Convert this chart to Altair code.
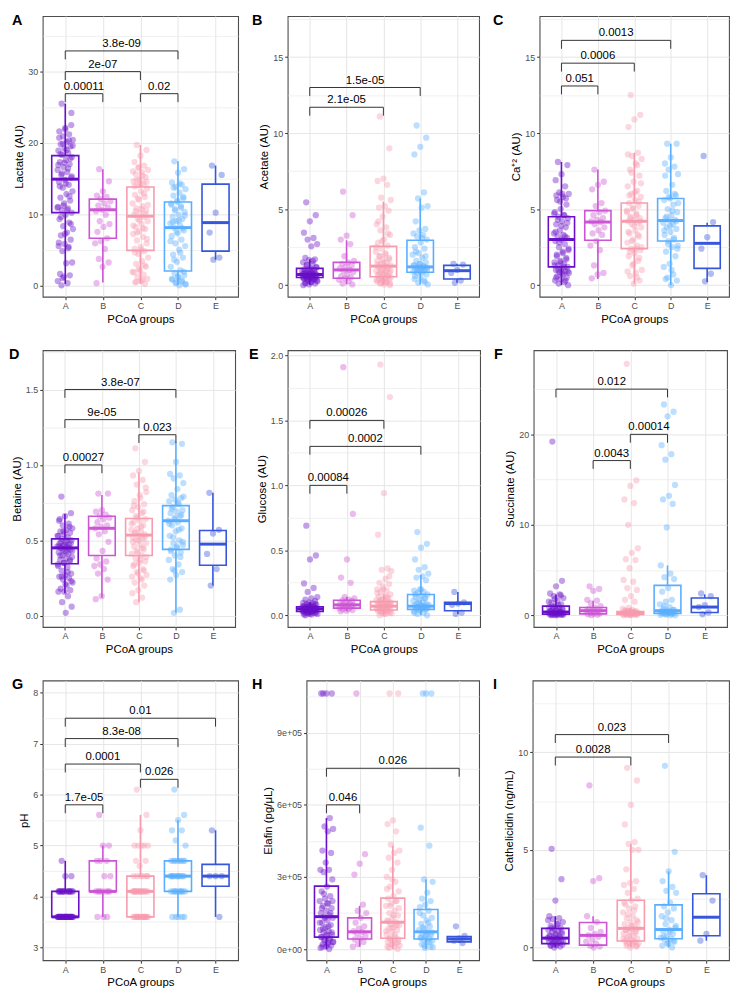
import json
import altair as alt
import pandas as pd

FONT = "Liberation Sans"
GROUPS = ["A", "B", "C", "D", "E"]
COLORS = ["#6A10C8", "#CC55D5", "#F79CAE", "#5AAEFF", "#3656DC"]

# ---------------- Panel A: Lactate ----------------
LAC_PTS = [
    [25.5, 24.2, 22.1, 21.6, 21.2, 20.9, 20.4, 20.1, 19.8, 19.5, 19.2, 18.9, 18.6, 18.3, 18.0, 17.6, 17.3, 17.0,
     16.6, 16.2, 15.9, 15.5, 15.1, 14.8, 14.5, 14.1, 13.7, 13.2, 12.8, 12.3, 11.9, 11.5, 11.0, 10.8, 10.5, 10.2,
     9.9, 9.3, 8.8, 8.3, 7.9, 7.4, 7.0, 6.4, 5.8, 5.5, 5.2, 4.8, 3.2, 3.1, 1.6, 1.4, 1.2, 0.6, 0.3, 0.0,
     22.5, 21.9, 20.7, 20.3, 19.9, 19.6, 19.0, 18.4, 17.8, 17.2, 16.9, 16.4, 15.7, 15.3, 14.3, 13.9, 12.5,
     11.2, 10.9, 10.6, 9.6, 8.6, 7.2, 6.0, 5.4, 1.0],
    [16.3, 14.6, 13.2, 12.6, 12.4, 12.1, 11.8, 11.5, 11.2, 10.9, 10.6, 10.4, 9.9, 9.0, 8.6, 8.2, 7.5, 6.6, 6.2,
     5.9, 5.1, 3.7, 3.2, 2.6, 0.3],
    [19.7, 19.0, 18.2, 17.3, 16.8, 16.5, 16.2, 15.9, 15.6, 15.2, 14.9, 14.6, 14.3, 14.0, 13.6, 13.2, 12.7, 12.4,
     12.0, 11.5, 11.1, 10.8, 10.5, 10.2, 9.9, 9.6, 9.3, 9.0, 8.6, 8.2, 7.9, 7.6, 7.2, 6.8, 6.3, 5.9, 5.4, 5.1,
     4.8, 4.4, 3.9, 3.4, 3.0, 2.6, 2.1, 1.8, 1.5, 1.2, 0.9, 0.6, 0.4, 0.2,
     16.6, 16.0, 15.4, 14.8, 14.5, 14.2, 13.9, 12.9, 12.2, 11.3, 10.7, 10.4, 10.0, 9.1, 8.4, 8.0, 7.4, 6.5,
     5.0, 4.6, 2.8, 2.3, 1.9, 0.8, 0.5],
    [17.4, 16.3, 15.8, 14.4, 14.1, 13.8, 13.5, 13.0, 12.6, 12.2, 11.9, 11.5, 11.1, 10.7, 10.3, 9.9, 9.6, 9.3,
     9.0, 8.7, 8.4, 8.1, 7.7, 7.3, 6.9, 6.4, 5.9, 5.5, 5.0, 4.3, 3.9, 3.3, 2.6, 2.1, 1.7, 1.4, 1.1, 0.8, 0.5,
     0.3, 0.1, 14.3, 13.7, 12.4, 11.7, 11.3, 10.9, 10.5, 9.8, 9.1, 8.9, 8.0, 7.5, 6.2, 4.6, 3.6, 1.9, 1.2,
     0.9, 0.7, 0.4, 0.2, 0.0],
    [16.8, 15.5, 10.2, 7.4, 3.9, 3.6],
]
LAC_LO = [0.2, 0.4, 0.2, 0.1, 3.6]
LAC_Q1 = [10.2, 6.6, 4.9, 2.0, 4.8]
LAC_MED = [14.9, 10.6, 9.7, 8.1, 8.8]
LAC_Q3 = [18.2, 12.1, 13.8, 11.7, 14.2]
LAC_HI = [25.5, 16.3, 19.7, 17.4, 16.8]
LAC_BR = [("A", "B", 26.9, "0.00011"), ("A", "C", 30.0, "2e-07"), ("C", "D", 26.9, "0.02"),
          ("A", "D", 32.9, "3.8e-09")]

# ---------------- Panel B: Acetate ----------------
ACE_PTS = [
    [5.45, 4.6, 4.2, 3.45, 3.1, 3.0, 2.7, 2.55, 1.8, 1.7, 1.65, 1.5, 1.4, 1.3, 1.2, 1.1, 1.05, 1.0, 0.95, 0.9,
     0.85, 0.8, 0.78, 0.75, 0.72, 0.7, 0.68, 0.65, 0.62, 0.6, 0.58, 0.55, 0.52, 0.5, 0.48, 0.45, 0.42, 0.4,
     0.35, 0.3, 0.25, 0.2, 0.15, 0.1, 0.05, 0.0, 1.6, 1.35, 1.15, 1.0, 0.9, 0.8, 0.75, 0.7, 0.65, 0.6, 0.55,
     0.5, 0.45, 0.4, 0.35, 0.3, 0.2, 0.1],
    [6.15, 4.6, 3.25, 3.0, 2.7, 1.9, 1.6, 1.5, 1.4, 1.3, 1.2, 1.1, 1.0, 0.95, 0.85, 0.7, 0.6, 0.5, 0.45, 0.35,
     0.25, 0.1, 0.05],
    [11.1, 9.0, 7.0, 6.85, 6.6, 5.75, 5.6, 5.2, 5.1, 4.9, 4.5, 4.0, 3.8, 3.6, 3.3, 3.0, 2.8, 2.6, 2.4, 2.2, 2.0,
     1.9, 1.8, 1.7, 1.6, 1.5, 1.4, 1.3, 1.25, 1.2, 1.1, 1.0, 0.95, 0.9, 0.85, 0.8, 0.7, 0.65, 0.6, 0.55, 0.5,
     0.45, 0.4, 0.35, 0.3, 0.25, 0.2, 0.15, 0.1, 0.05, 4.2, 3.4, 2.9, 2.5, 2.1, 1.9, 1.7, 1.5, 1.35, 1.2,
     1.1, 0.95, 0.8, 0.7, 0.6, 0.45, 0.35, 0.2, 0.1, 0.0],
    [10.5, 9.7, 9.1, 8.6, 6.1, 5.7, 5.2, 5.1, 4.2, 3.7, 3.6, 3.4, 3.3, 3.2, 3.0, 2.8, 2.5, 2.4, 2.1, 2.0, 1.8,
     1.6, 1.5, 1.4, 1.3, 1.25, 1.2, 1.15, 1.1, 1.05, 1.0, 0.95, 0.9, 0.85, 0.8, 0.7, 0.5, 0.4, 0.3, 0.15, 0.05,
     3.1, 2.2, 1.9, 1.4, 1.3, 1.2, 1.1, 1.0, 0.9, 0.6, 0.2],
    [1.4, 1.35, 1.0, 0.8, 0.3, 0.15],
]
ACE_LO = [0.0, 0.05, 0.0, 0.05, 0.15]
ACE_Q1 = [0.5, 0.45, 0.55, 0.85, 0.4]
ACE_MED = [0.7, 1.0, 1.25, 1.2, 0.95]
ACE_Q3 = [1.1, 1.5, 2.55, 2.95, 1.3]
ACE_HI = [1.7, 2.95, 5.5, 5.7, 1.4]
ACE_BR = [("A", "C", 11.7, "2.1e-05"), ("A", "D", 13.0, "1.5e-05")]

# ---------------- Panel C: Ca+2 ----------------
CA_PTS = [
    [8.1, 7.9, 7.3, 6.9, 6.5, 6.1, 6.0, 5.8, 5.6, 5.3, 5.0, 4.8, 4.6, 4.5, 4.4, 4.2, 4.0, 3.8, 3.6, 3.4, 3.3,
     3.2, 3.1, 3.0, 2.9, 2.7, 2.5, 2.3, 2.2, 2.0, 1.8, 1.6, 1.5, 1.4, 1.3, 1.2, 1.1, 1.0, 0.9, 0.85, 0.8, 0.7,
     0.6, 0.5, 0.4, 0.3, 0.2, 0.1, 0.0, 6.0, 5.9, 5.7, 5.5, 4.7, 4.6, 4.3, 4.1, 3.9, 3.5, 3.2, 2.8, 2.4, 2.1,
     1.9, 1.7, 1.5, 1.3, 1.2, 1.0, 0.9, 0.8, 0.5, 0.3],
    [7.6, 6.8, 6.6, 6.3, 5.4, 5.2, 4.9, 4.8, 4.6, 4.4, 4.3, 4.2, 4.15, 4.0, 3.8, 3.6, 3.4, 3.3, 2.9, 2.6, 2.3,
     1.3, 0.8, 0.7, 0.45],
    [12.5, 11.2, 10.9, 10.4, 8.7, 8.5, 8.3, 8.0, 7.6, 7.2, 6.8, 6.5, 6.2, 6.0, 5.8, 5.6, 5.4, 5.2, 5.0, 4.9,
     4.7, 4.5, 4.4, 4.3, 4.2, 4.1, 4.0, 3.8, 3.6, 3.4, 3.2, 3.0, 2.8, 2.6, 2.4, 2.3, 2.1, 1.9, 1.6, 1.3, 1.0,
     0.8, 0.6, 0.3, 0.1, 8.6, 7.9, 7.4, 6.7, 6.1, 5.9, 5.5, 5.1, 4.8, 4.6, 4.4, 4.2, 3.9, 3.5, 3.3, 2.9, 2.5,
     2.4, 2.2, 1.8, 1.4, 0.9, 0.5],
    [9.3, 9.3, 8.4, 8.0, 7.8, 7.6, 7.3, 6.6, 6.2, 5.9, 5.7, 5.6, 5.3, 5.0, 4.8, 4.6, 4.4, 4.3, 4.25, 4.1, 4.0,
     3.8, 3.7, 3.5, 3.3, 3.1, 2.9, 2.6, 2.5, 2.2, 1.9, 1.4, 1.2, 0.7, 0.5, 0.3, 0.0, 7.2, 6.0, 5.8, 5.4, 4.9,
     4.5, 4.2, 3.9, 3.6, 3.0, 2.7, 2.4, 1.0, 0.4],
    [8.5, 4.15, 3.15, 2.4, 0.75, 0.25],
]
CA_LO = [0.0, 0.4, 0.1, 0.0, 0.2]
CA_Q1 = [1.2, 2.95, 2.4, 2.9, 1.1]
CA_MED = [3.0, 4.15, 4.2, 4.25, 2.75]
CA_Q3 = [4.5, 4.9, 5.4, 5.7, 3.9]
CA_HI = [8.1, 7.6, 8.7, 9.3, 4.1]
CA_BR = [("A", "B", 13.1, "0.051"), ("A", "C", 14.6, "0.0006"), ("A", "D", 16.1, "0.0013")]

# ---------------- Panel D: Betaine ----------------
BET_PTS = [
    [0.79, 0.68, 0.66, 0.63, 0.61, 0.6, 0.58, 0.57, 0.56, 0.55, 0.54, 0.53, 0.52, 0.51, 0.5, 0.49, 0.48, 0.47,
     0.465, 0.46, 0.455, 0.45, 0.44, 0.43, 0.42, 0.41, 0.4, 0.39, 0.38, 0.37, 0.36, 0.35, 0.34, 0.32, 0.3,
     0.28, 0.27, 0.26, 0.25, 0.24, 0.22, 0.2, 0.18, 0.17, 0.16, 0.16, 0.13, 0.09, 0.06, 0.02, 0.64, 0.59,
     0.56, 0.53, 0.5, 0.49, 0.48, 0.47, 0.46, 0.45, 0.44, 0.43, 0.42, 0.4, 0.37, 0.35, 0.33, 0.29, 0.26,
     0.23, 0.21],
    [0.81, 0.81, 0.7, 0.69, 0.67, 0.66, 0.65, 0.64, 0.62, 0.6, 0.59, 0.58, 0.56, 0.54, 0.49, 0.43, 0.38, 0.36,
     0.34, 0.33, 0.31, 0.28, 0.24, 0.13, 0.11],
    [1.11, 1.02, 0.96, 0.93, 0.9, 0.87, 0.82, 0.78, 0.76, 0.74, 0.72, 0.7, 0.68, 0.66, 0.64, 0.63, 0.62, 0.6,
     0.58, 0.57, 0.56, 0.55, 0.54, 0.53, 0.52, 0.51, 0.5, 0.48, 0.47, 0.46, 0.44, 0.42, 0.41, 0.4, 0.38, 0.36,
     0.35, 0.33, 0.31, 0.29, 0.27, 0.25, 0.22, 0.2, 0.17, 0.15, 0.12, 0.09, 0.85, 0.8, 0.73, 0.69, 0.65,
     0.61, 0.59, 0.55, 0.52, 0.5, 0.49, 0.45, 0.43, 0.39, 0.37, 0.34, 0.3, 0.28, 0.26, 0.24],
    [1.15, 1.14, 1.02, 0.94, 0.93, 0.91, 0.88, 0.84, 0.8, 0.78, 0.77, 0.76, 0.74, 0.72, 0.7, 0.69, 0.68, 0.66,
     0.64, 0.63, 0.62, 0.6, 0.58, 0.56, 0.53, 0.5, 0.48, 0.47, 0.45, 0.44, 0.42, 0.4, 0.37, 0.34, 0.31, 0.29,
     0.27, 0.24, 0.04, 0.02, 0.79, 0.75, 0.71, 0.67, 0.65, 0.61, 0.57, 0.52, 0.49, 0.46, 0.43, 0.39, 0.3],
    [0.815, 0.57, 0.545, 0.41, 0.31, 0.2],
]
BET_LO = [0.15, 0.12, 0.09, 0.02, 0.2]
BET_Q1 = [0.345, 0.40, 0.40, 0.44, 0.335]
BET_MED = [0.45, 0.58, 0.535, 0.63, 0.475]
BET_Q3 = [0.51, 0.66, 0.645, 0.73, 0.565]
BET_HI = [0.675, 0.80, 0.95, 1.15, 0.815]
BET_BR = [("A", "B", 1.0, "0.00027"), ("C", "D", 1.2, "0.023"), ("A", "C", 1.3, "9e-05"),
          ("A", "D", 1.5, "3.8e-07")]

# ---------------- Panel E: Glucose ----------------
GLU_PTS = [
    [0.69, 0.46, 0.43, 0.245, 0.21, 0.18, 0.14, 0.13, 0.12, 0.11, 0.1, 0.095, 0.09, 0.085, 0.08, 0.075, 0.07,
     0.068, 0.065, 0.062, 0.06, 0.058, 0.055, 0.052, 0.05, 0.048, 0.046, 0.044, 0.042, 0.04, 0.038, 0.036,
     0.034, 0.032, 0.03, 0.028, 0.025, 0.022, 0.02, 0.015, 0.01, 0.005, 0.0, 0.09, 0.08, 0.07, 0.065, 0.06,
     0.055, 0.05, 0.045, 0.04, 0.035, 0.03, 0.025, 0.02, 0.015, 0.01, 0.005],
    [1.91, 0.78, 0.43, 0.29, 0.25, 0.14, 0.13, 0.12, 0.115, 0.11, 0.1, 0.095, 0.09, 0.085, 0.08, 0.075, 0.07,
     0.065, 0.06, 0.055, 0.05, 0.045, 0.04, 0.035, 0.03],
    [1.93, 1.68, 0.94, 0.62, 0.36, 0.35, 0.34, 0.28, 0.25, 0.24, 0.22, 0.2, 0.19, 0.18, 0.16, 0.15, 0.14, 0.13,
     0.12, 0.115, 0.11, 0.105, 0.1, 0.095, 0.09, 0.085, 0.08, 0.075, 0.07, 0.068, 0.065, 0.06, 0.055, 0.05,
     0.045, 0.04, 0.035, 0.03, 0.025, 0.02, 0.015, 0.01, 0.0, 0.3, 0.2, 0.17, 0.14, 0.12, 0.1, 0.09, 0.08,
     0.07, 0.06, 0.05, 0.04, 0.03, 0.02, 0.01],
    [0.64, 0.55, 0.52, 0.43, 0.37, 0.35, 0.32, 0.3, 0.29, 0.27, 0.2, 0.19, 0.18, 0.17, 0.16, 0.15, 0.14, 0.13,
     0.12, 0.11, 0.1, 0.09, 0.085, 0.08, 0.075, 0.07, 0.065, 0.06, 0.055, 0.05, 0.045, 0.04, 0.03, 0.02, 0.01,
     0.0, 0.2, 0.16, 0.13, 0.1, 0.08, 0.07, 0.06, 0.05, 0.04, 0.02],
    [0.18, 0.1, 0.09, 0.08, 0.02, 0.01],
]
GLU_LO = [0.0, 0.03, 0.0, 0.0, 0.01]
GLU_Q1 = [0.03, 0.055, 0.04, 0.045, 0.035]
GLU_MED = [0.05, 0.08, 0.07, 0.07, 0.09]
GLU_Q3 = [0.065, 0.115, 0.105, 0.16, 0.10]
GLU_HI = [0.10, 0.14, 0.16, 0.31, 0.18]
GLU_BR = [("A", "B", 1.0, "0.00084"), ("A", "D", 1.3, "0.0002"), ("A", "C", 1.5, "0.00026")]

# ---------------- Panel F: Succinate ----------------
SUC_PTS = [
    [19.2, 3.8, 3.2, 2.4, 2.3, 2.1, 1.9, 1.6, 1.4, 1.2, 1.0, 0.9, 0.8, 0.7, 0.6, 0.5, 0.45, 0.4, 0.35, 0.3,
     0.25, 0.2, 0.15, 0.12, 0.1, 0.08, 0.06, 0.04, 0.02, 0.0, 2.2, 1.8, 1.5, 1.1, 0.95, 0.75, 0.55, 0.45,
     0.35, 0.3, 0.2, 0.15, 0.1, 0.05, 0.0],
    [3.2, 2.9, 2.7, 1.7, 1.6, 1.3, 1.0, 0.85, 0.7, 0.6, 0.5, 0.45, 0.4, 0.3, 0.2, 0.15, 0.1, 0.05, 0.0],
    [27.8, 14.9, 14.3, 12.8, 12.4, 10.0, 7.4, 6.9, 6.2, 6.1, 5.2, 3.9, 3.7, 3.0, 2.8, 2.1, 1.7, 1.5, 0.8, 0.7,
     0.6, 0.5, 0.45, 0.4, 0.35, 0.3, 0.25, 0.2, 0.18, 0.15, 0.12, 0.1, 0.08, 0.06, 0.04, 0.02, 0.0, 0.5, 0.4,
     0.3, 0.25, 0.2, 0.15, 0.1, 0.05, 0.0, 0.35, 0.45],
    [23.3, 22.5, 22.0, 18.8, 17.8, 17.2, 14.4, 13.2, 12.8, 12.3, 9.7, 5.5, 4.6, 4.2, 4.0, 3.0, 2.6, 1.7, 1.5,
     1.2, 0.9, 0.7, 0.6, 0.5, 0.45, 0.4, 0.35, 0.3, 0.25, 0.2, 0.15, 0.1, 0.05, 0.0, 1.0, 0.6, 0.4, 0.3, 0.2,
     0.1, 0.0],
    [2.4, 2.1, 1.1, 0.9, 0.3, 0.1],
]
SUC_LO = [0.0, 0.0, 0.0, 0.0, 0.1]
SUC_Q1 = [0.1, 0.15, 0.08, 0.2, 0.3]
SUC_MED = [0.35, 0.5, 0.2, 0.5, 0.9]
SUC_Q3 = [1.0, 0.85, 0.4, 3.3, 1.9]
SUC_HI = [2.3, 1.6, 0.8, 5.5, 2.3]
SUC_BR = [("B", "C", 17.1, "0.0043"), ("C", "D", 20.0, "0.00014"), ("A", "D", 25.0, "0.012")]

# ---------------- Panel G: pH ----------------
PH_PTS = [
    [4.7, 4.4, 4.4, 4.1, 4.1, 4.1, 4.1, 4.1, 4.1, 4.1, 4.1, 4.1, 4.1, 4.1, 4.1, 3.6, 3.6, 3.6, 3.6, 3.6, 3.6,
     3.6, 3.6, 3.6, 3.6, 3.6, 3.6, 3.6, 3.6, 3.6, 3.6, 3.6, 3.6, 3.6, 3.6, 3.6, 3.6, 4.1, 4.1, 4.1, 3.6, 3.6,
     3.6, 3.6, 3.6, 3.6],
    [5.6, 5.0, 5.0, 4.7, 4.7, 4.7, 4.4, 4.4, 4.1, 4.1, 4.1, 4.1, 4.1, 4.1, 4.1, 3.6, 3.6, 3.6],
    [6.1, 5.6, 5.3, 5.0, 5.0, 5.0, 5.0, 5.0, 4.7, 4.7, 4.6, 4.4, 4.4, 4.4, 4.4, 4.4, 4.1, 4.1, 4.1, 4.1, 4.1,
     4.1, 4.1, 4.1, 4.1, 4.1, 4.1, 4.1, 4.1, 4.1, 3.6, 3.6, 3.6, 3.6, 3.6, 3.6, 3.6, 3.6, 3.6, 3.6, 3.6, 3.6,
     3.6, 3.6, 4.1, 4.1, 3.6, 3.6, 4.4],
    [6.1, 5.6, 5.5, 5.3, 5.3, 5.1, 5.0, 4.7, 4.7, 4.7, 4.7, 4.7, 4.7, 4.7, 4.7, 4.4, 4.4, 4.4, 4.4, 4.4, 4.4,
     4.4, 4.4, 4.4, 4.4, 4.1, 4.1, 4.1, 4.1, 4.1, 4.1, 4.1, 4.1, 4.1, 4.1, 3.6, 3.6, 3.6, 3.6, 3.6],
    [5.3, 4.4, 4.4, 4.4, 3.6],
]
PH_LO = [3.6, 3.6, 3.6, 3.6, 3.6]
PH_Q1 = [3.6, 4.1, 3.6, 4.1, 4.2]
PH_MED = [3.6, 4.1, 4.1, 4.4, 4.4]
PH_Q3 = [4.1, 4.7, 4.4, 4.7, 4.63]
PH_HI = [4.7, 5.0, 5.6, 5.5, 5.3]
PH_BR = [("A", "B", 5.8, "1.7e-05"), ("C", "D", 6.3, "0.026"), ("A", "C", 6.6, "0.0001"),
         ("A", "D", 7.1, "8.3e-08"), ("A", "E", 7.5, "0.01")]

# ---------------- Panel H: Elafin ----------------
ELA_PTS = [
    [1.063e6, 1.063e6, 1.063e6, 1.063e6, 5.45e5, 5.1e5, 5.0e5, 4.9e5, 4.1e5, 4.0e5, 3.6e5, 3.3e5, 3.3e5,
     3.2e5, 2.9e5, 2.6e5, 2.4e5, 2.2e5, 2.1e5, 2.0e5, 1.9e5, 1.8e5, 1.7e5, 1.6e5, 1.5e5, 1.4e5, 1.35e5,
     1.3e5, 1.2e5, 1.1e5, 1.0e5, 0.9e5, 0.8e5, 0.75e5, 0.7e5, 0.6e5, 0.55e5, 0.5e5, 0.45e5, 0.4e5, 0.3e5,
     0.25e5, 0.2e5, 0.15e5, 0.1e5, 0.05e5, 0.0, 2.3e5, 2.0e5, 1.9e5, 1.7e5, 1.5e5, 1.3e5, 1.1e5, 0.95e5,
     0.85e5, 0.7e5, 0.6e5, 0.5e5, 0.4e5, 0.35e5, 0.3e5, 0.2e5, 0.1e5],
    [1.063e6, 3.95e5, 3.55e5, 3.1e5, 1.85e5, 1.6e5, 1.5e5, 1.3e5, 1.1e5, 0.95e5, 0.85e5, 0.75e5, 0.72e5,
     0.65e5, 0.55e5, 0.45e5, 0.4e5, 0.3e5, 0.2e5, 0.1e5],
    [1.063e6, 1.063e6, 5.35e5, 5.2e5, 4.9e5, 4.35e5, 4.1e5, 4.0e5, 3.8e5, 3.6e5, 3.3e5, 3.0e5, 2.8e5, 2.6e5,
     2.4e5, 2.2e5, 2.1e5, 2.0e5, 1.9e5, 1.8e5, 1.6e5, 1.5e5, 1.4e5, 1.3e5, 1.2e5, 1.12e5, 1.05e5, 1.0e5,
     0.9e5, 0.85e5, 0.8e5, 0.7e5, 0.6e5, 0.5e5, 0.45e5, 0.4e5, 0.35e5, 0.3e5, 0.25e5, 0.2e5, 0.15e5, 0.1e5,
     0.05e5, 0.0, 2.9e5, 2.5e5, 2.0e5, 1.8e5, 1.7e5, 1.4e5, 1.15e5, 1.0e5, 0.9e5, 0.75e5, 0.6e5, 0.45e5,
     0.3e5, 0.2e5, 0.1e5],
    [1.063e6, 1.063e6, 1.063e6, 5.05e5, 4.3e5, 2.9e5, 2.8e5, 2.35e5, 2.1e5, 2.0e5, 1.85e5, 1.75e5, 1.6e5,
     1.4e5, 1.3e5, 1.2e5, 1.05e5, 0.95e5, 0.85e5, 0.8e5, 0.72e5, 0.65e5, 0.6e5, 0.55e5, 0.5e5, 0.45e5, 0.4e5,
     0.35e5, 0.3e5, 0.2e5, 0.1e5, 0.05e5, 1.5e5, 1.1e5, 0.9e5, 0.7e5, 0.6e5, 0.45e5, 0.3e5, 0.15e5, 0.08e5],
    [0.95e5, 0.55e5, 0.45e5, 0.35e5, 0.25e5],
]
ELA_LO = [0.0, 0.1e5, 0.0, 0.0, 0.25e5]
ELA_Q1 = [0.5e5, 0.42e5, 0.45e5, 0.42e5, 0.3e5]
ELA_MED = [1.35e5, 0.72e5, 1.12e5, 0.72e5, 0.42e5]
ELA_Q3 = [2.62e5, 1.3e5, 2.12e5, 1.65e5, 0.52e5]
ELA_HI = [5.45e5, 1.8e5, 4.3e5, 2.9e5, 0.55e5]
ELA_BR = [("A", "B", 6.0e5, "0.046"), ("A", "E", 7.52e5, "0.026")]

# ---------------- Panel I: Cathelicidin ----------------
CAT_PTS = [
    [5.05, 3.5, 2.4, 1.6, 1.5, 1.45, 1.3, 1.2, 1.1, 1.0, 0.95, 0.9, 0.85, 0.8, 0.7, 0.65, 0.6, 0.55, 0.5,
     0.48, 0.45, 0.4, 0.35, 0.3, 0.28, 0.25, 0.2, 0.15, 0.12, 0.1, 0.05, 0.0, 1.4, 1.2, 1.0, 0.8, 0.7, 0.6,
     0.5, 0.4, 0.3, 0.2, 0.1],
    [8.3, 3.55, 3.4, 1.6, 1.3, 1.0, 0.8, 0.7, 0.62, 0.55, 0.4, 0.3, 0.2, 0.1, 0.05, 0.0],
    [9.2, 8.55, 7.3, 6.3, 5.4, 5.3, 5.0, 5.0, 4.0, 3.4, 3.3, 3.2, 3.0, 2.8, 2.5, 2.4, 2.2, 2.1, 2.0, 1.8, 1.6,
     1.5, 1.4, 1.3, 1.2, 1.1, 1.0, 0.98, 0.95, 0.9, 0.85, 0.8, 0.7, 0.6, 0.5, 0.45, 0.4, 0.35, 0.3, 0.25,
     0.2, 0.15, 0.1, 0.05, 0.0, 2.3, 1.9, 1.7, 1.3, 1.1, 0.9, 0.75, 0.6, 0.45, 0.3, 0.2, 0.1],
    [9.3, 4.9, 3.9, 3.4, 3.1, 2.9, 2.8, 2.3, 2.1, 2.0, 1.8, 1.6, 1.4, 1.2, 1.0, 0.92, 0.85, 0.7, 0.6, 0.5,
     0.45, 0.4, 0.3, 0.2, 0.1, 0.0, 1.5, 1.1, 0.8, 0.55, 0.35, 0.2],
    [3.7, 2.4, 0.7, 0.35],
]
CAT_LO = [0.0, 0.0, 0.0, 0.0, 0.35]
CAT_Q1 = [0.2, 0.12, 0.33, 0.45, 0.6]
CAT_MED = [0.48, 0.62, 0.98, 0.92, 1.55]
CAT_Q3 = [0.98, 1.28, 2.42, 2.18, 2.75]
CAT_HI = [1.6, 1.6, 5.3, 3.9, 3.7]
CAT_BR = [("A", "C", 9.75, "0.0028"), ("A", "D", 10.9, "0.023")]

H1, H2, H3 = 283, 279, 282
PANELS = [
    dict(letter="A", lx=-31, title="Lactate (AU)", dom=[-1.6, 37.8], major=[0, 10, 20, 30],
         labels=["0", "10", "20", "30"], minor=[5, 15, 25, 35], pts=LAC_PTS,
         box=[LAC_LO, LAC_Q1, LAC_MED, LAC_Q3, LAC_HI], br=LAC_BR, w=197, h=H1),
    dict(letter="B", lx=-36, title="Acetate (AU)", dom=[-0.76, 17.7], major=[0, 5, 10, 15],
         labels=["0", "5", "10", "15"], minor=[2.5, 7.5, 12.5, 17.5], pts=ACE_PTS,
         box=[ACE_LO, ACE_Q1, ACE_MED, ACE_Q3, ACE_HI], br=ACE_BR, w=193, h=H1),
    dict(letter="C", lx=-47, title="Ca\u207a\u00b2 (AU)", dom=[-0.76, 17.7], major=[0, 5, 10, 15],
         labels=["0", "5", "10", "15"], minor=[2.5, 7.5, 12.5, 17.5], pts=CA_PTS,
         box=[CA_LO, CA_Q1, CA_MED, CA_Q3, CA_HI], br=CA_BR, w=191, h=H1),
    dict(letter="D", lx=-34, title="Betaine (AU)", dom=[-0.074, 1.76], major=[0, 0.5, 1, 1.5],
         labels=["0.0", "0.5", "1.0", "1.5"], minor=[0.25, 0.75, 1.25, 1.75], pts=BET_PTS,
         box=[BET_LO, BET_Q1, BET_MED, BET_Q3, BET_HI], br=BET_BR, w=194, h=H2),
    dict(letter="E", lx=-39, title="Glucose (AU)", dom=[-0.09, 2.04], major=[0, 0.5, 1, 1.5, 2],
         labels=["0.0", "0.5", "1.0", "1.5", "2.0"], minor=[0.25, 0.75, 1.25, 1.75], pts=GLU_PTS,
         box=[GLU_LO, GLU_Q1, GLU_MED, GLU_Q3, GLU_HI], br=GLU_BR, w=194, h=H2),
    dict(letter="F", lx=-40, title="Succinate (AU)", dom=[-1.3, 29.3], major=[0, 10, 20],
         labels=["0", "10", "20"], minor=[5, 15, 25], pts=SUC_PTS,
         box=[SUC_LO, SUC_Q1, SUC_MED, SUC_Q3, SUC_HI], br=SUC_BR, w=195, h=H2),
    dict(letter="G", lx=-31, title="pH", dom=[2.75, 8.24], major=[3, 4, 5, 6, 7, 8],
         labels=["3", "4", "5", "6", "7", "8"], minor=[3.5, 4.5, 5.5, 6.5, 7.5], pts=PH_PTS,
         box=[PH_LO, PH_Q1, PH_MED, PH_Q3, PH_HI], br=PH_BR, w=197, h=H3),
    dict(letter="H", lx=-55, title="Elafin (pg/\u03bcL)", dom=[-46000, 1117000],
         major=[0, 300000, 600000, 900000], labels=["0e+00", "3e+05", "6e+05", "9e+05"],
         minor=[150000, 450000, 750000, 1050000], pts=ELA_PTS,
         box=[ELA_LO, ELA_Q1, ELA_MED, ELA_Q3, ELA_HI], br=ELA_BR, w=174, h=H3),
    dict(letter="I", lx=-40, title="Cathelicidin (ng/mL)", dom=[-0.65, 13.67], major=[0, 5, 10],
         labels=["0", "5", "10"], minor=[2.5, 7.5, 12.5], pts=CAT_PTS,
         box=[CAT_LO, CAT_Q1, CAT_MED, CAT_Q3, CAT_HI], br=CAT_BR, w=198, h=H3),
]

CSCALE = alt.Scale(domain=GROUPS, range=COLORS)
XSCALE = alt.Scale(domain=[0.4, 5.6], nice=False, zero=False)
XAXIS = alt.Axis(values=[1, 2, 3, 4, 5], labelExpr="['A','B','C','D','E'][datum.value - 1]",
                 title="PCoA groups", grid=True, gridColor="#E6E6E6", gridWidth=1)


def label_expr(vals, labs):
    expr = "''"
    for v, l in reversed(list(zip(vals, labs))):
        expr = f"datum.value == {v} ? '{l}' : ({expr})"
    return expr


def make_panel(p):
    rows = []
    for gi, g in enumerate(GROUPS):
        for i, v in enumerate(p["pts"][gi]):
            rows.append(dict(g=g, gi=gi + 1, i=i, v=v))
    pts = pd.DataFrame(rows)
    lo, q1, med, q3, hi = p["box"]
    box = pd.DataFrame(dict(g=GROUPS, gi=[1, 2, 3, 4, 5], lo=lo, q1=q1, med=med, q3=q3, hi=hi))
    span = p["dom"][1] - p["dom"][0]
    br = pd.DataFrame([dict(x1=GROUPS.index(a) + 1, x2=GROUPS.index(b) + 1, y=y, lab=lab)
                       for a, b, y, lab in p["br"]])
    br["xm"] = (br["x1"] + br["x2"]) / 2
    br["tip"] = br["y"] - 0.03 * span

    test = f"indexof({json.dumps(p['major'])}, datum.value) >= 0"
    yaxis = alt.Axis(values=sorted(p["major"] + p["minor"]), labelExpr=label_expr(p["major"], p["labels"]),
                     title=p["title"], grid=True, gridColor="#E6E6E6",
                     gridWidth={"condition": {"test": test, "value": 1.0}, "value": 0.6},
                     tickOpacity={"condition": {"test": test, "value": 1}, "value": 0})
    yscale = alt.Scale(domain=p["dom"], nice=False, zero=False)

    def X(f):
        return alt.X(f"{f}:Q", scale=XSCALE, axis=XAXIS)

    def Y(f):
        return alt.Y(f"{f}:Q", scale=yscale, axis=yaxis)

    colr = alt.Color("g:N", scale=CSCALE, legend=None)
    strk = alt.Stroke("g:N", scale=CSCALE, legend=None)

    bb = alt.Chart(box).transform_calculate(bx1="datum.gi - 0.36", bx2="datum.gi + 0.36")
    rect = bb.mark_rect(fillOpacity=0, strokeWidth=1.6).encode(x=X("bx1"), x2="bx2", y=Y("q1"), y2="q3",
                                                              stroke=strk)
    medl = bb.mark_rule(strokeWidth=3).encode(x=X("bx1"), x2="bx2", y=Y("med"), color=colr)
    wlo = bb.mark_rule(strokeWidth=1.6).encode(x=X("gi"), y=Y("lo"), y2="q1", color=colr)
    whi = bb.mark_rule(strokeWidth=1.6).encode(x=X("gi"), y=Y("q3"), y2="hi", color=colr)

    dots = alt.Chart(pts).transform_calculate(
        jx="datum.gi + ((datum.i * 0.6180339887 + 0.27) % 1 - 0.5) * 0.42"
    ).mark_circle(size=40, opacity=0.4).encode(x=X("jx"), y=Y("v"), color=colr)

    bc = alt.Chart(br)
    hl = bc.mark_rule(color="#333333", strokeWidth=1).encode(x=X("x1"), x2="x2", y=Y("y"))
    t1 = bc.mark_rule(color="#333333", strokeWidth=1).encode(x=X("x1"), y=Y("tip"), y2="y")
    t2 = bc.mark_rule(color="#333333", strokeWidth=1).encode(x=X("x2"), y=Y("tip"), y2="y")
    txt = bc.mark_text(baseline="bottom", dy=-2, fontSize=11.5, font=FONT, color="black").encode(
        x=X("xm"), y=Y("y"), text="lab:N")

    letter = alt.Chart(pd.DataFrame({"t": [p["letter"]]})).mark_text(
        align="left", baseline="middle", fontSize=14.5, fontWeight="bold", font=FONT, color="black"
    ).encode(x=alt.value(p["lx"]), y=alt.value(5), text="t:N")

    return alt.layer(rect, medl, wlo, whi, dots, hl, t1, t2, txt, letter).properties(
        width=p["w"], height=p["h"])


charts = [make_panel(p) for p in PANELS]
rows = [alt.hconcat(*charts[0:3], spacing=12),
        alt.hconcat(*charts[3:6], spacing=12),
        alt.hconcat(*charts[6:9], spacing=12)]
chart = alt.vconcat(*rows, spacing=20).properties(padding={"left": 0, "top": 0, "right": 0, "bottom": 0})
chart = chart.configure_view(stroke="#4D4D4D", strokeWidth=1.1).configure_axis(
    labelFont=FONT, titleFont=FONT, labelFontSize=9, labelColor="#4D4D4D", titleFontSize=11.5,
    titleFontWeight="normal", titleColor="black", domain=False, tickColor="#333333", tickSize=3,
    labelPadding=2, titlePadding=3,
)

chart.save("out.html", embed_options={"renderer": "svg", "actions": False})
